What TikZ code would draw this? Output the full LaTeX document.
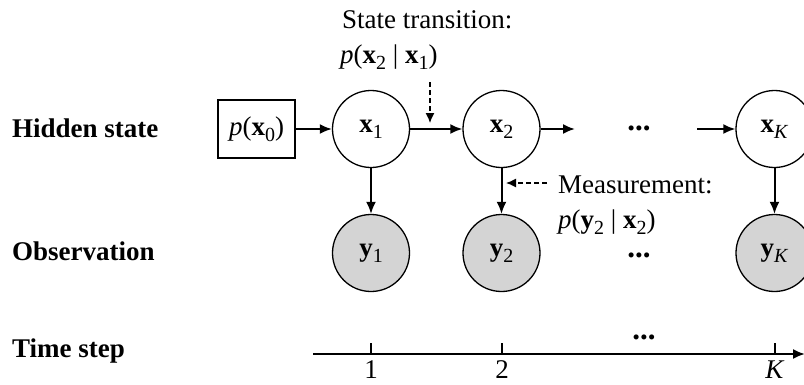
\documentclass[tikz,border=0pt]{standalone}
\usepackage{fontspec}
\setmainfont{Liberation Serif}
\usetikzlibrary{arrows.meta,positioning}
\newcommand{\sbs}[1]{\raisebox{-6pt}{\fontsize{20}{22}\selectfont #1}}
\newcommand{\vx}[1]{\textbf{x}\sbs{#1}}
\newcommand{\vy}[1]{\textbf{y}\sbs{#1}}

\begin{document}
\begin{tikzpicture}[x=1pt, y=-1pt, font=\fontsize{27}{33}\selectfont,
    hid/.style = {draw, circle, line width=1.3pt, minimum size=77pt, inner sep=0pt},
    obs/.style = {hid, fill=black!17},
    lab/.style = {anchor=base west, inner sep=0pt, font=\fontsize{27}{33}\selectfont\bfseries},
    txt/.style = {anchor=base west, inner sep=0pt},
    dots/.style = {anchor=base, inner sep=0pt, font=\fontsize{31}{33}\selectfont\bfseries},
    arr/.style = {-{Latex[length=12pt,width=10pt]}, line width=2pt},
    dsh/.style = {-{Latex[length=10pt,width=9pt]}, line width=1.3pt, dash pattern=on 5pt off 3pt}]
    \useasboundingbox (0,0) rectangle (804,384);

    % row labels
    \node[lab] (hidlab) at (12,137) {Hidden state};
    \node[lab] (obslab) at (12,260) {Observation};
    \node[lab] (tslab) at (12,357) {Time step};

    % hidden chain
    \node[draw, line width=1.3pt, minimum width=77pt, minimum height=58pt, inner sep=0pt] (p0) at (256.5,129) {\textit{p}(\vx{0})};
    \node[hid] (x1) at (371,129) {\vx{1}};
    \node[hid] (x2) at (501.5,129) {\vx{2}};
    \node[hid] (xK) at (774.5,129) {\vx{\textit{K}}};
    \node[dots] (hdots) at (639,130) {...};
    \coordinate (h1) at (575,129);
    \coordinate (h2) at (697,129);

    % observations
    \node[obs] (y1) at (371,253) {\vy{1}};
    \node[obs] (y2) at (501.5,253) {\vy{2}};
    \node[obs] (yK) at (774.5,253) {\vy{\textit{K}}};
    \node[dots] (odots) at (639,257) {...};

    \path[arr]
    (p0) edge (x1)
    (x1) edge (x2)
    (x2) edge (h1)
    (h2) edge (xK)

    (x1) edge (y1)
    (x2) edge (y2)
    (xK) edge (yK)
    ;

    % state transition
    \node[txt] (st1) at (342,28) {State transition:};
    \node[txt] (st2) at (340,63) {\textit{p}(\vx{2} | \vx{1})};
    \coordinate (tr0) at (430,82);
    \coordinate (tr1) at (430,123);
    \draw[dsh] (tr0) -- (tr1);

    % measurement
    \node[txt] (ms1) at (558,193) {Measurement:};
    \node[txt] (ms2) at (558,228) {\textit{p}(\vy{2} | \vx{2})};
    \coordinate (me0) at (547,183);
    \coordinate (me1) at (506,183);
    \draw[dsh] (me0) -- (me1);

    % time axis
    \coordinate (ax0) at (313,354);
    \coordinate (ax1) at (805,354);
    \draw[arr] (ax0) -- (ax1);
    \foreach \t/\l [count=\i] in {371/1, 502/2, 775/\textit{K}} {
        \draw[line width=2pt] (\t,343) -- (\t,354);
        \node[anchor=base, inner sep=0pt] (tk\i) at (\t,378) {\l};
    }
    \node[dots] (tdots) at (644,339) {...};
\end{tikzpicture}
\end{document}
